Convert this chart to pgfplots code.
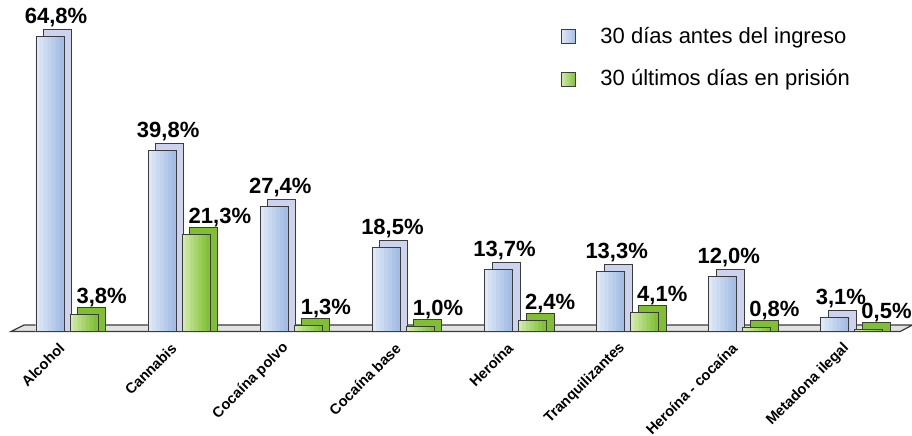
\documentclass[border=0pt]{standalone}
\usepackage{fontspec}
\setmainfont{Liberation Sans}
\usepackage{pgfplots}
\usepackage{pgfplotstable}
\pgfplotsset{compat=1.18}
\definecolor{bL}{RGB}{222,232,246}
\definecolor{bR}{RGB}{164,189,228}
\definecolor{bS}{RGB}{205,210,238}
\definecolor{gL}{RGB}{208,234,170}
\definecolor{gR}{RGB}{130,192,52}
\definecolor{gS}{RGB}{128,190,50}
\definecolor{edge}{RGB}{60,60,60}
\definecolor{floorc}{RGB}{226,226,226}
\pgfplotstableread{
x blue green
0 64.8 3.8
1 39.8 21.3
2 27.4 1.3
3 18.5 1.0
4 13.7 2.4
5 13.3 4.1
6 12.0 0.8
7 3.1 0.5
}\datatable
\newcommand{\frontstrip}[3]{%
  \addplot[ybar, bar width=2.4pt, bar shift=#2, fill=#3, draw=none, forget plot]
    table[x=x, y=#1] {\datatable};}
\begin{document}
\begin{tikzpicture}
\begin{axis}[
  scale only axis,
  width=448.5pt, height=165.75pt,
  xmin=-0.5, xmax=7.5, ymin=0, ymax=72.9,
  axis line style={draw=none},
  tick style={draw=none},
  clip=false,
  xtick=data,
  xticklabels={Alcohol,Cannabis,Cocaína polvo,Cocaína base,Heroína,Tranquilizantes,Heroína - cocaína,Metadona ilegal},
  xticklabel style={font=\bfseries\fontsize{7.3}{8.8}\selectfont, xshift=-2.5pt, rotate=45, anchor=east, inner sep=0pt},
  xticklabel shift=7pt,
  ytick=\empty,
  bar width=14pt,
  legend style={at={(rel axis cs:0.606,0.943)}, anchor=north west, draw=none, fill=none,
    font=\fontsize{11}{13}\selectfont, row sep=7.5pt},
  legend cell align=left,
]
% floor
\draw[fill=floorc, draw=edge, line width=0.6pt] (axis cs:-0.5,0) -- (axis cs:7.43,0) -- (axis cs:7.54,1.43) -- (axis cs:-0.384,1.43) -- cycle;
% blue depth
\addplot[ybar, bar shift=-4.75pt, fill=bS, draw=edge, line width=0.5pt, forget plot]
  table[x=x, y expr=\thisrow{blue}+1.54] {\datatable};
% blue front (stepped gradient)
\frontstrip{blue}{-14.5pt}{bR!0!bL}
\frontstrip{blue}{-12.5pt}{bR!17!bL}
\frontstrip{blue}{-10.5pt}{bR!33!bL}
\frontstrip{blue}{-8.5pt}{bR!50!bL}
\frontstrip{blue}{-6.5pt}{bR!67!bL}
\frontstrip{blue}{-4.5pt}{bR!83!bL}
\frontstrip{blue}{-2.5pt}{bR!100!bL}
\addplot[ybar, bar shift=-8.5pt, fill=none, draw=edge, line width=0.5pt,
  legend image code/.code={\draw[left color=bL, right color=bR, draw=edge, line width=0.5pt] (0pt,-3.5pt) rectangle (7pt,3.5pt); \path[draw=none, fill=none] (7pt,0) -- (17.5pt,0);},
  nodes near coords={\pgfmathprintnumber[fixed,fixed zerofill,precision=1,use comma,assume math mode=true]{\pgfplotspointmeta}\%},
  every node near coord/.append style={font=\bfseries\fontsize{11}{13}\selectfont, inner sep=0pt, anchor=base, yshift=6.5pt, xshift=-5.5pt, text=black}]
  table[x=x, y=blue] {\datatable};
\addlegendentry{30 días antes del ingreso}
% green depth
\addplot[ybar, bar shift=12.25pt, fill=gS, draw=edge, line width=0.5pt, forget plot]
  table[x=x, y expr=\thisrow{green}+1.54] {\datatable};
% green front
\frontstrip{green}{2.5pt}{gR!0!gL}
\frontstrip{green}{4.5pt}{gR!17!gL}
\frontstrip{green}{6.5pt}{gR!33!gL}
\frontstrip{green}{8.5pt}{gR!50!gL}
\frontstrip{green}{10.5pt}{gR!67!gL}
\frontstrip{green}{12.5pt}{gR!83!gL}
\frontstrip{green}{14.5pt}{gR!100!gL}
\addplot[ybar, bar shift=8.5pt, fill=none, draw=edge, line width=0.5pt,
  legend image code/.code={\draw[left color=gL, right color=gR, draw=edge, line width=0.5pt] (0pt,-3.5pt) rectangle (7pt,3.5pt); \path[draw=none, fill=none] (7pt,0) -- (17.5pt,0);},
  nodes near coords={\pgfmathprintnumber[fixed,fixed zerofill,precision=1,use comma,assume math mode=true]{\pgfplotspointmeta}\%},
  every node near coord/.append style={font=\bfseries\fontsize{11}{13}\selectfont, inner sep=0pt, anchor=base west, yshift=5.5pt, xshift=4.5pt, text=black}]
  table[x=x, y=green] {\datatable};
\addlegendentry{30 últimos días en prisión}
\coordinate (sw) at (rel axis cs:0,0);
\coordinate (ne) at (rel axis cs:1,1);
\end{axis}
\pgfresetboundingbox
\path ([xshift=-5.5pt,yshift=-51.75pt]sw) rectangle ([xshift=2pt]ne);
\end{tikzpicture}
\end{document}
